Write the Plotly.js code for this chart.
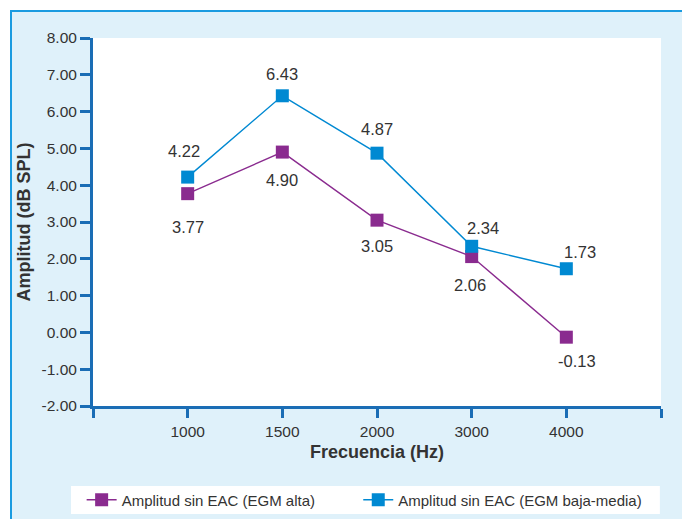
<!DOCTYPE html>
<html>
<head>
<meta charset="utf-8">
<script src="https://cdn.plot.ly/plotly-3.0.1.min.js"></script>
<style>
html,body{margin:0;padding:0;background:#ffffff;width:682px;height:519px;overflow:hidden;}
#frame{position:absolute;left:10px;top:10px;border-left:2px solid #1a9be0;border-top:2px solid #1a9be0;width:670px;height:507px;background:#dff1fa;}
#plot{width:670px;height:507px;}
</style>
</head>
<body>
<div id="frame"><div id="plot"></div></div>
<script>
var frequencies = ['1000', '1500', '2000', '3000', '4000'];
var seriesNames = ['Amplitud sin EAC (EGM alta)', 'Amplitud sin EAC (EGM baja-media)'];
var egmAlta = [3.77, 4.90, 3.05, 2.06, -0.13];
var egmBajaMedia = [4.22, 6.43, 4.87, 2.34, 1.73];
var yTickValues = [-2, -1, 0, 1, 2, 3, 4, 5, 6, 7, 8];

// label offsets (pixels) for readability, as in the reference
var altaShiftX = [0, 0, 0, -2, 11];
var altaShiftY = [-33, -28, -26, -28, -24];
var bajaShiftX = [-4, 0, 0, 11, 14];
var bajaShiftY = [26, 22, 24, 18, 17];

var idx = frequencies.map(function(_, i){ return i; });
var colorAlta = '#8a2b8f';
var colorBaja = '#0089d2';
var axisColor = '#1a6db5';
var textColor = '#333333';
var fontFam = 'Liberation Sans, Arial, sans-serif';

var traces = [
  {x: idx, y: egmAlta, name: seriesNames[0], mode: 'lines+markers', type: 'scatter', legend: 'legend',
   line: {color: colorAlta, width: 1.4}, marker: {symbol: 'square', size: 13, color: colorAlta}},
  {x: idx, y: egmBajaMedia, name: seriesNames[1], mode: 'lines+markers', type: 'scatter', legend: 'legend2',
   line: {color: colorBaja, width: 1.4}, marker: {symbol: 'square', size: 13, color: colorBaja}}
];

var annotations = [];
idx.forEach(function(i){
  annotations.push({x: i, y: egmAlta[i], xref: 'x', yref: 'y', text: egmAlta[i].toFixed(2),
    showarrow: false, xshift: altaShiftX[i], yshift: altaShiftY[i],
    font: {family: fontFam, size: 16.5, color: textColor}});
  annotations.push({x: i, y: egmBajaMedia[i], xref: 'x', yref: 'y', text: egmBajaMedia[i].toFixed(2),
    showarrow: false, xshift: bajaShiftX[i], yshift: bajaShiftY[i],
    font: {family: fontFam, size: 16.5, color: textColor}});
});

var xTickVals = [-1].concat(idx).concat([frequencies.length]);
var xTickText = [''].concat(frequencies).concat(['']);

var legendBase = {
  orientation: 'h', xanchor: 'left', y: -0.2554, yanchor: 'middle',
  bgcolor: 'rgba(0,0,0,0)', font: {size: 15, color: textColor}
};

var layout = {
  width: 670, height: 507,
  margin: {l: 81, r: 21, t: 26, b: 113, autoexpand: false},
  paper_bgcolor: '#dff1fa',
  plot_bgcolor: '#ffffff',
  font: {family: fontFam, size: 15.5, color: textColor},
  showlegend: true,
  xaxis: {
    range: [-1, frequencies.length], tickmode: 'array', tickvals: xTickVals, ticktext: xTickText,
    showgrid: false, zeroline: false, showline: true, linecolor: axisColor, linewidth: 3,
    ticks: 'outside', ticklen: 9, tickwidth: 3, tickcolor: axisColor, automargin: false,
    tickfont: {size: 15.5, color: textColor},
    title: {text: '<b>Frecuencia (Hz)</b>', font: {size: 18, color: textColor}, standoff: 7}
  },
  yaxis: {
    range: [-2, 8], tickmode: 'array', tickvals: yTickValues,
    ticktext: yTickValues.map(function(v){ return v.toFixed(2); }),
    showgrid: false, zeroline: false, showline: true, linecolor: axisColor, linewidth: 3,
    ticks: 'outside', ticklen: 10, tickwidth: 3, tickcolor: axisColor, automargin: false,
    tickfont: {size: 15.5, color: textColor},
    title: {text: '<b>Amplitud (dB SPL)</b>', font: {size: 18, color: textColor}, standoff: 7}
  },
  legend: Object.assign({}, legendBase, {x: -0.02}),
  legend2: Object.assign({}, legendBase, {x: 0.467}),
  shapes: [
    {type: 'rect', xref: 'paper', yref: 'paper', x0: -0.0387, x1: 0.998, y0: -0.2935, y1: -0.2174,
     fillcolor: '#ffffff', line: {width: 0}, layer: 'below'}
  ],
  annotations: annotations
};

Plotly.newPlot('plot', traces, layout, {displayModeBar: false, staticPlot: true});
</script>
</body>
</html>
